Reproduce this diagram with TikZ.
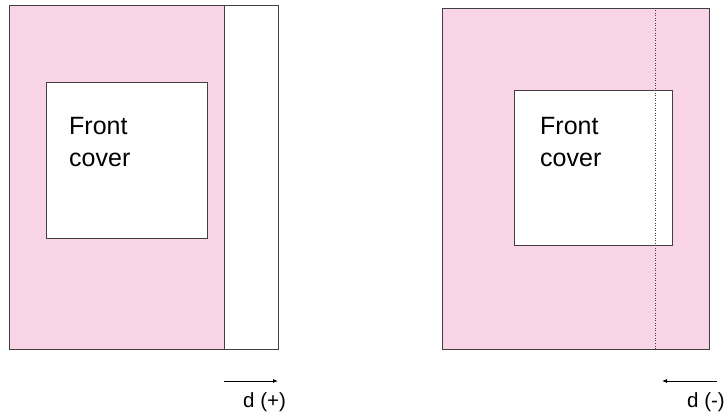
\documentclass[tikz,border=0pt]{standalone}
\usepackage{fontspec}
\setmainfont{Liberation Sans}
\usetikzlibrary{arrows.meta}
\definecolor{pinkfill}{RGB}{249,211,230}
\definecolor{edge}{RGB}{64,64,64}
\begin{document}
\begin{tikzpicture}[x=1pt,y=-1pt,
  frame/.style={draw=edge,line width=0.8pt},
  covertext/.style={anchor=base west,inner sep=0pt,font=\fontsize{25}{30}\selectfont,align=left},
  dlabel/.style={anchor=base west,inner sep=0pt,font=\fontsize{20.5}{24}\selectfont},
  dirarrow/.style={-{Latex[length=5pt,width=4pt]},draw=black,line width=0.8pt}]
\useasboundingbox (0,0) rectangle (726,414);
% left
\fill[pinkfill] (9,5) rectangle (224,349);
\node[frame,minimum width=54pt,minimum height=344pt,anchor=north west,inner sep=0pt] (lstrip) at (224,5) {};
\draw[frame] (9,5) rectangle (278,349);
\node[frame,fill=white,minimum width=161pt,minimum height=156pt,anchor=north west,inner sep=0pt] (lcover) at (46,82) {};
\node[covertext] (lt1) at (69,135) {Front};
\node[covertext] (lt2) at (69,167) {cover};
\coordinate (la1) at (224,381);
\coordinate (la2) at (278,381);
\draw[dirarrow] (la1) -- (la2);
\node[dlabel] (ld) at (243,407) {d (+)};
% right
\node[frame,fill=pinkfill,minimum width=267pt,minimum height=341pt,anchor=north west,inner sep=0pt] (rpage) at (442,8) {};
\node[frame,fill=white,minimum width=158pt,minimum height=155pt,anchor=north west,inner sep=0pt] (rcover) at (514,90) {};
\coordinate (rd1) at (655,8);
\coordinate (rd2) at (655,349);
\draw[draw=edge,line width=0.5pt,dotted] (rd1) -- (rd2);
\node[covertext] (rt1) at (540,135) {Front};
\node[covertext] (rt2) at (540,167) {cover};
\coordinate (ra1) at (717,381);
\coordinate (ra2) at (662,381);
\draw[dirarrow] (ra1) -- (ra2);
\node[dlabel] (rdl) at (687,407) {d (-)};
\end{tikzpicture}
\end{document}
